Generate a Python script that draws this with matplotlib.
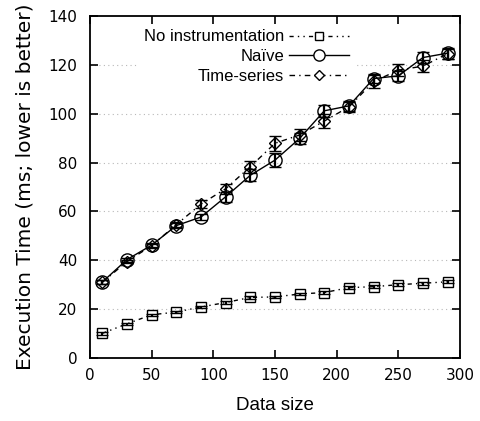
import matplotlib
matplotlib.use("Agg")
import matplotlib.pyplot as plt
from matplotlib.lines import Line2D

sizes = [10, 30, 50, 70, 90, 110, 130, 150, 170, 190, 210, 230, 250, 270, 290]

none_vals = [10.1, 14.0, 17.7, 18.8, 20.9, 22.7, 24.8, 25.0, 26.2, 26.8, 28.8, 29.2, 30.0, 30.6, 31.2]
none_err = [0.5, 0.5, 0.5, 0.5, 0.5, 0.5, 0.5, 0.5, 0.6, 0.6, 0.6, 0.6, 0.6, 0.7, 0.7]

naive_vals = [31.1, 40.3, 46.2, 54.2, 57.7, 66.0, 74.8, 81.0, 89.9, 101.2, 103.2, 114.4, 115.5, 123.0, 124.8]
naive_err = [0.8, 0.8, 0.8, 1.0, 1.2, 2.0, 2.5, 3.0, 2.2, 2.5, 2.0, 2.0, 2.0, 2.2, 2.2]

ts_vals = [31.0, 39.5, 46.0, 54.6, 63.0, 69.3, 78.3, 87.9, 91.3, 97.0, 102.8, 113.2, 117.8, 119.5, 124.6]
ts_err = [0.8, 0.8, 0.8, 1.0, 1.8, 2.0, 2.5, 3.0, 2.5, 3.0, 2.0, 2.5, 2.5, 2.5, 2.0]

labels = ["No instrumentation", "Naïve", "Time-series"]
xticks = [0, 50, 100, 150, 200, 250, 300]
yticks = [0, 20, 40, 60, 80, 100, 120, 140]

fig = plt.figure(figsize=(4.81, 4.21), dpi=100)
ax = fig.add_axes([90/481, 1-358/421, 370/481, 342/421])

common = dict(color="black", ecolor="black", elinewidth=1.6, capsize=4.5, capthick=1.6,
              markerfacecolor="none", markeredgecolor="black", markeredgewidth=1.0, linewidth=1.0)

styles = [
    dict(marker="s", markersize=7.5, linestyle=(0, (3, 3, 1, 3, 1, 3))),
    dict(marker="o", markersize=9.5, linestyle="-"),
    dict(marker="D", markersize=6.5, linestyle=(0, (4, 3, 1, 3))),
]

for vals, errs, st in zip([none_vals, naive_vals, ts_vals], [none_err, naive_err, ts_err], styles):
    ax.errorbar(sizes, vals, yerr=errs, **st, **common)

ax.set_xlim(0, 300)
ax.set_ylim(0, 140)
ax.set_xticks(xticks)
ax.set_yticks(yticks)
ax.tick_params(direction="in", length=6, width=1.2, top=True, right=True,
               labelsize=11)
for lab in ax.get_xticklabels() + ax.get_yticklabels():
    lab.set_family("DejaVu Sans")
ax.tick_params(axis="x", pad=7)
ax.tick_params(axis="y", pad=9)

for y in yticks[1:-1]:
    ax.axhline(y, color="#b8b8b8", linestyle=(0, (1, 3)), linewidth=0.8, zorder=0)

for s in ax.spines.values():
    s.set_linewidth(1.3)

ax.set_xlabel("Data size", family="Liberation Sans", fontsize=13.5, labelpad=10)
ax.set_ylabel("Execution Time (ms; lower is better)", family="DejaVu Sans", fontsize=14.5, labelpad=10)

handles = []
for st in styles:
    h = Line2D([], [], color="black", markerfacecolor="white", markeredgecolor="black",
               markeredgewidth=1.0, linewidth=1.0, marker=st["marker"],
               markersize=st["markersize"] * 0.85, linestyle=st["linestyle"])
    handles.append(h)

leg = ax.legend(handles, labels, loc="upper right", bbox_to_anchor=(0.727, 0.99), markerfirst=False,
                frameon=True, framealpha=1.0, edgecolor="none", facecolor="white",
                fancybox=False, handlelength=3.6, handletextpad=0.3, labelspacing=0.28,
                borderpad=0.3, borderaxespad=0.3,
                prop={"family": "Liberation Sans", "size": 12})
leg.set_zorder(5)

fig.savefig("out.png", dpi=100)
